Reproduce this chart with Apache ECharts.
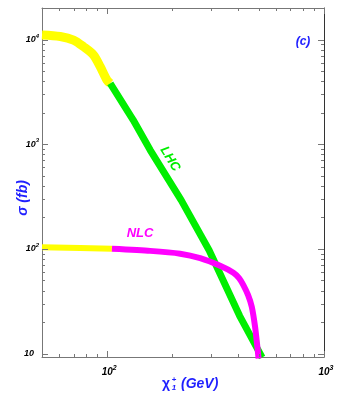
<!DOCTYPE html>
<html>
<head>
<meta charset="utf-8">
<script src="https://cdn.jsdelivr.net/npm/echarts@6/dist/echarts.min.js"></script>
<style>
html, body { margin: 0; padding: 0; background: #fff; }
#chart { width: 338px; height: 398px; }
</style>
</head>
<body>
<div id="chart"></div>
<script>
// LHC curve: yellow part below ~100 GeV, green above
const lhcMassLow = [50, 60.7, 69.9, 77.8, 86.5, 92.8, 99.7, 103.2];
const lhcSigmaLow = [11050, 10680, 9880, 8530, 7110, 5500, 4100, 3815];
const lhcMassHigh = [103.2, 131.8, 157.8, 219.3, 295.1, 408, 507, 518];
const lhcSigmaHigh = [3815, 1701, 880, 293, 97.4, 23, 10.0, 9.2];

// NLC curve
const nlcMassLow = [50, 75, 105.1];
const nlcSigmaLow = [104, 102, 100.3];
const nlcMassHigh = [105.1, 157.8, 217, 268.3, 331.7, 381.9, 405.7, 424.6, 446.5, 464.4, 481, 492.8, 499];
const nlcSigmaHigh = [100.3, 95.9, 90.2, 81.7, 69, 59.2, 52.6, 45.1, 36.2, 28, 18, 11.6, 9.0];

const xTicks = [50, 60, 70, 80, 90, 100, 200, 300, 400, 500, 600, 700, 800, 900, 1000];
const yTicks = [10, 20, 30, 40, 50, 60, 70, 80, 90, 100, 200, 300, 400, 500, 600, 700, 800, 900,
  1000, 2000, 3000, 4000, 5000, 6000, 7000, 8000, 9000, 10000];

const xMin = 50, xMax = 1000;
const yMin = 9.3, yMax = 20000;

const blue = '#1f1fff';
const pair = (xs, ys) => xs.map((x, i) => [x, ys[i]]);
const isPow = (v) => {
  const l = Math.log10(v);
  return Math.abs(l - Math.round(l)) < 1e-6;
};

const labelFont = { fontFamily: 'Liberation Sans', fontStyle: 'italic', fontWeight: 'bold', color: '#000' };

const tickSeries = (ticks, dir) => ({
  type: 'custom',
  silent: true,
  clip: false,
  z: 5,
  data: ticks.map((v) => (dir === 'x' ? [v, yMin] : [xMin, v])),
  renderItem: (params, api) => {
    const cs = params.coordSys;
    const v = api.value(dir === 'x' ? 0 : 1);
    const p = api.coord([api.value(0), api.value(1)]);
    const len = isPow(v) ? 6 : 3;
    const style = { stroke: '#777', lineWidth: 1 };
    if (dir === 'x') {
      const x = Math.round(p[0]) + 0.5;
      const b = cs.y + cs.height, t = cs.y;
      return {
        type: 'group',
        children: [
          { type: 'line', shape: { x1: x, y1: b, x2: x, y2: b - len }, style },
          { type: 'line', shape: { x1: x, y1: t, x2: x, y2: t + len }, style },
        ],
      };
    }
    const y = Math.round(p[1]) + 0.5;
    const l = cs.x, r = cs.x + cs.width;
    return {
      type: 'group',
      children: [
        { type: 'line', shape: { x1: l, y1: y, x2: l + len, y2: y }, style },
        { type: 'line', shape: { x1: r, y1: y, x2: r - len, y2: y }, style },
      ],
    };
  },
});

const lineSeries = (data, color, width, z, smooth) => ({
  type: 'line',
  data,
  showSymbol: false,
  smooth,
  z,
  lineStyle: { color, width },
  silent: true,
});

const chart = echarts.init(document.getElementById('chart'));
chart.setOption({
  animation: false,
  grid: { left: 42, right: 14, top: 8, bottom: 41 },
  xAxis: [
    {
      type: 'log',
      logBase: 10,
      min: xMin,
      max: xMax,
      axisLine: { show: true, lineStyle: { color: '#777' } },
      axisTick: { show: false },
      splitLine: { show: false },
      axisLabel: {
        margin: 8,
        formatter: (v) => (isPow(v) ? '{e|}{b|10}{s|' + Math.round(Math.log10(v)) + '}' : ''),
        rich: {
          b: { ...labelFont, fontSize: 10 },
          s: { ...labelFont, fontSize: 7, padding: [0, 0, 7, 0] },
          e: { width: 4 },
        },
      },
    },
    {
      type: 'value',
      position: 'top',
      min: 0,
      max: 1,
      axisLine: { show: true, lineStyle: { color: '#777' } },
      axisTick: { show: false },
      axisLabel: { show: false },
      splitLine: { show: false },
    },
  ],
  yAxis: [
    {
      type: 'log',
      logBase: 10,
      min: yMin,
      max: yMax,
      axisLine: { show: true, lineStyle: { color: '#777' } },
      axisTick: { show: false },
      splitLine: { show: false },
      axisLabel: {
        margin: 3,
        formatter: (v) => {
          if (!isPow(v)) return '';
          const e = Math.round(Math.log10(v));
          return e === 1 ? '{b|10}{e|}' : '{b|10}{s|' + e + '}';
        },
        rich: {
          b: { ...labelFont, fontSize: 9 },
          s: { ...labelFont, fontSize: 6, padding: [0, 0, 7, 0] },
          e: { width: 5 },
        },
      },
    },
    {
      type: 'value',
      position: 'right',
      min: 0,
      max: 1,
      axisLine: { show: true, lineStyle: { color: '#333' } },
      axisTick: { show: false },
      axisLabel: { show: false },
      splitLine: { show: false },
    },
  ],
  series: [
    lineSeries(pair(lhcMassLow, lhcSigmaLow), '#ffff00', 9, 2, 0.3),
    lineSeries(pair(lhcMassHigh, lhcSigmaHigh), '#00ee00', 7, 2, false),
    lineSeries(pair(nlcMassLow, nlcSigmaLow), '#ffff00', 6, 3, false),
    lineSeries(pair(nlcMassHigh, nlcSigmaHigh), '#ff00ff', 6, 3, 0.2),
    tickSeries(xTicks, 'x'),
    tickSeries(yTicks, 'y'),
  ],
  graphic: [
    {
      type: 'text', x: 23, y: 198, rotation: Math.PI / 2,
      style: { text: 'σ (fb)', fill: blue, font: 'italic bold 14px "Liberation Sans"', textAlign: 'center', textVerticalAlign: 'middle', align: 'center', verticalAlign: 'middle' },
    },
    {
      type: 'text', x: 166, y: 384,
      style: { text: 'χ', fill: blue, font: 'bold 14px "Liberation Sans"', textAlign: 'center', textVerticalAlign: 'middle', align: 'center', verticalAlign: 'middle' },
    },
    {
      type: 'text', x: 174, y: 380,
      style: { text: '+', fill: blue, font: 'bold 8px "Liberation Sans"', textAlign: 'center', textVerticalAlign: 'middle', align: 'center', verticalAlign: 'middle' },
    },
    {
      type: 'text', x: 174, y: 388,
      style: { text: '1', fill: blue, font: 'italic bold 8px "Liberation Sans"', textAlign: 'center', textVerticalAlign: 'middle', align: 'center', verticalAlign: 'middle' },
    },
    {
      type: 'text', x: 181, y: 384,
      style: { text: '(GeV)', fill: blue, font: 'italic bold 14px "Liberation Sans"', textAlign: 'left', textVerticalAlign: 'middle', align: 'left', verticalAlign: 'middle' },
    },
    {
      type: 'text', x: 303, y: 42,
      style: { text: '(c)', fill: blue, font: 'italic bold 12px "Liberation Sans"', textAlign: 'center', textVerticalAlign: 'middle', align: 'center', verticalAlign: 'middle' },
    },
    {
      type: 'text', x: 170, y: 159, rotation: -58 * Math.PI / 180,
      style: { text: 'LHC', fill: '#00ee00', font: 'italic bold 13px "Liberation Sans"', textAlign: 'center', textVerticalAlign: 'middle', align: 'center', verticalAlign: 'middle' },
    },
    {
      type: 'text', x: 140, y: 233,
      style: { text: 'NLC', fill: '#ff00ff', font: 'italic bold 13px "Liberation Sans"', textAlign: 'center', textVerticalAlign: 'middle', align: 'center', verticalAlign: 'middle' },
    },
  ],
});
</script>
</body>
</html>
